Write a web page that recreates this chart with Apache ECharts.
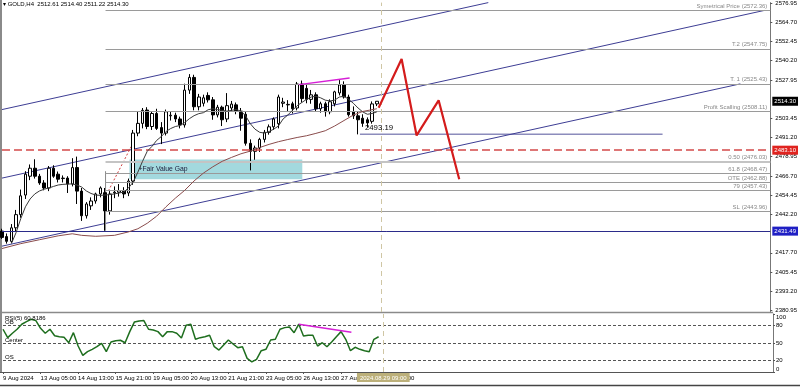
<!DOCTYPE html>
<html><head><meta charset="utf-8">
<script src="https://cdn.jsdelivr.net/npm/echarts@6/dist/echarts.min.js"></script>
<style>html,body{margin:0;padding:0;background:#fff}#c{width:800px;height:387px}</style>
</head><body><div id="c"></div>
<script>
const FONT = "'Liberation Sans','DejaVu Sans',sans-serif";
const symbolName = 'GOLD,H4';

// OHLC, H4 bars (bar 0 = 9 Aug 21:00 ... bar 80 = 29 Aug 05:00)
const openV = [
2431.5,2428.0,2425.0,2433.6,2442.0,2454.5,2466.5,2471.6,2466.5,2462.2,
2459.0,2471.6,2467.8,2465.0,2465.3,2461.5,2472.0,2457.0,2441.3,2447.6,
2450.7,2455.2,2456.0,2444.4,2455.8,2456.3,2457.3,2455.8,2463.4,2494.0,
2500.2,2508.7,2498.2,2506.5,2497.5,2494.0,2505.0,2505.4,2503.0,2499.2,
2521.4,2529.5,2510.8,2513.0,2518.0,2515.2,2505.6,2510.5,2503.0,2510.0,
2512.0,2508.0,2506.0,2487.5,2482.4,2484.5,2490.0,2494.5,2498.0,2500.0,
2513.0,2512.0,2512.7,2510.0,2525.3,2522.5,2515.5,2518.4,2509.5,2512.7,
2507.6,2512.7,2519.6,2524.7,2517.0,2507.5,2505.0,2503.5,2502.5,2501.5,
2512.61];
const highV = [
2433.0,2430.0,2436.0,2445.0,2458.0,2469.7,2474.0,2477.3,2468.0,2464.0,
2473.0,2473.5,2469.5,2467.0,2466.5,2478.0,2479.0,2459.0,2450.0,2453.0,
2456.0,2460.0,2459.0,2457.0,2460.0,2461.5,2459.5,2465.0,2496.0,2507.6,
2510.0,2510.5,2508.0,2509.5,2501.0,2509.0,2508.0,2507.0,2504.5,2525.5,
2531.6,2531.2,2519.0,2518.5,2520.0,2517.0,2512.0,2511.5,2519.5,2514.5,
2513.5,2510.0,2508.0,2490.0,2486.0,2491.0,2496.0,2499.5,2504.0,2518.5,
2516.5,2515.0,2514.0,2526.6,2527.5,2525.0,2521.5,2520.0,2514.0,2514.0,
2515.5,2521.0,2527.8,2527.0,2518.5,2511.0,2508.0,2506.0,2504.0,2514.2,
2514.40];
const lowV = [
2426.5,2423.5,2424.0,2431.0,2440.0,2452.0,2464.0,2465.0,2461.0,2457.5,
2457.0,2465.5,2462.5,2462.5,2455.8,2460.0,2448.8,2438.0,2439.5,2445.0,
2449.0,2453.0,2431.7,2442.0,2452.5,2453.5,2452.5,2453.8,2461.0,2492.0,
2497.0,2496.5,2496.0,2496.0,2487.0,2492.5,2502.0,2501.0,2497.0,2497.5,
2519.0,2508.5,2508.5,2511.0,2513.5,2502.5,2504.0,2498.5,2501.0,2508.0,
2506.0,2495.5,2486.0,2470.2,2477.0,2482.0,2488.0,2493.0,2496.0,2497.0,
2510.5,2508.0,2506.5,2508.5,2513.5,2513.0,2512.7,2507.6,2507.0,2504.5,
2506.0,2511.0,2518.0,2516.0,2504.5,2503.0,2493.19,2498.0,2497.5,2500.0,
2511.22];
const closeV = [
2427.5,2425.0,2433.6,2442.0,2454.0,2467.8,2471.6,2466.5,2462.2,2459.0,
2471.6,2466.5,2464.6,2465.3,2461.5,2472.0,2457.0,2441.3,2448.8,2450.7,
2455.2,2459.0,2444.4,2455.2,2456.3,2457.3,2455.2,2463.4,2494.0,2500.2,
2508.5,2498.2,2506.5,2497.0,2494.0,2507.6,2505.4,2503.0,2499.2,2521.4,
2529.5,2510.8,2517.0,2516.5,2515.2,2505.6,2510.5,2502.5,2511.5,2512.5,
2508.0,2503.5,2487.5,2482.4,2484.5,2490.0,2494.5,2498.0,2503.0,2517.0,
2513.8,2512.3,2509.5,2525.3,2516.0,2515.5,2518.4,2509.5,2512.7,2507.6,
2514.0,2520.3,2524.7,2517.0,2505.7,2505.0,2502.5,2500.2,2500.5,2512.6,
2514.30];

// fast moving average (bars 2..80)
const maFastStart = 2;
const maFast = [
2423.5,2430.5,2439.4,2447.0,2452.0,2455.2,2457.1,2458.2,
2459.0,2460.0,2460.9,2461.3,2461.5,2461.6,2460.9,2459.6,2457.1,2455.5,
2454.5,2454.3,2454.5,2454.8,2455.2,2455.8,2456.4,2459.0,2462.8,2469.1,
2476.0,2482.4,2485.5,2489.3,2491.8,2495.0,2496.9,2498.2,2498.8,2500.7,
2503.2,2505.1,2506.4,2507.0,2508.9,2509.5,2509.0,2508.5,2508.0,2508.5,
2509.0,2508.0,2505.0,2500.0,2496.5,2494.5,2494.0,2495.0,2496.5,2498.5,
2503.0,2505.5,2508.5,2511.5,2513.5,2515.5,2517.0,2517.5,2516.5,2515.0,
2514.5,2515.0,2517.0,2517.5,2515.5,2513.0,2510.0,2507.5,2506.0,2506.5,
2507.5];
// slow moving average (read at sample bars)
const maSlowBars = [0,4,8,12,15,17,20,24,27,29,31,33,35,37,39,41,43,45,47,49,51,53,55,57,59,61,63,65,67,69,71,73,75,77,80];
const maSlowVals = [2420.4,2423.5,2426.0,2428.5,2429.8,2428.8,2428.2,2428.8,2431.0,2433.0,2436.5,2441.0,2447.0,2452.5,2457.5,2463.5,2468.5,2472.5,2476.0,2478.5,2480.8,2482.5,2484.8,2486.8,2488.5,2489.9,2491.2,2492.3,2493.8,2495.5,2498.5,2502.0,2505.5,2507.8,2509.5];

// RSI(5)
const rsiVals = [
73.7,59.2,66.8,73.7,82.3,86.9,91.0,88.6,75.4,66.8,
73.7,62.5,60.9,59.8,50.5,67.8,44.8,28.7,35.0,39.1,
43.6,49.5,35.0,51.7,54.0,54.7,50.5,69.6,86.3,88.1,
88.6,73.7,72.5,69.6,60.9,69.6,69.6,66.8,58.7,80.6,
82.3,56.4,59.2,60.9,63.3,43.6,37.9,46.5,55.2,48.3,
41.9,43.6,23.5,17.6,21.8,36.7,39.1,55.2,56.4,73.7,
76.5,77.7,67.8,82.4,62.1,63.3,63.3,44.8,50.5,43.6,
51.7,60.9,69.6,56.4,36.7,42.6,39.1,36.7,35.0,56.4,
60.8186];
const rsiLevels = [80, 50, 20];
const rsiLevelNames = ['OB', 'Center', 'OS'];
const rsiTicks = [0, 20, 50, 80, 100];

// time axis
const tickBars = [0,8,16,24,32,40,48,56,64,72,80];
const tickLabels = ['9 Aug 2024','13 Aug 05:00','14 Aug 13:00','15 Aug 21:00','19 Aug 05:00','20 Aug 13:00','21 Aug 21:00','23 Aug 05:00','26 Aug 13:00','27 Aug 21:00','29 Aug 05:00'];
const cursorBar = 81;
const cursorLabel = '2024.08.29 09:00';
const xMax = 164;

// price axis
const priceMin = 2379.92, priceMax = 2577.2;
const priceTicks = [2380.95,2393.20,2405.45,2417.70,2442.20,2454.45,2466.70,2478.95,2491.20,2503.45,2527.95,2540.20,2552.45,2564.70,2576.95];

// drawn levels
const levelNames = ['Symetrical Price','T.2','T. 1','Profit Scalling','0.50','61.8','OTE','79','SL'];
const levelVals = [2572.36,2547.75,2525.43,2508.11,2476.03,2468.47,2462.88,2457.43,2443.96];
const levelStartBar = 22.1;
const redLevel = 2483.10;
const blueLevel = 2431.49;
const lowMark = 2493.19;
const lowMarkBars = [76.4, 141];

// channel lines [bar, price]
const channelUpper = [[0, 2509.0], [103.8, 2577.2]];
const channelMid = [[0, 2465.3], [162.7, 2572.2]];
const channelLow = [[0, 2421.9], [157.6, 2525.4]];

// fair value gap
const fvgBars = [27.2, 64.1];
const fvgPrices = [2477.1, 2464.5];

// projected path
const forecastBars = [80.4, 85.3, 88.5, 93.2, 97.6];
const forecastVals = [2510.2, 2541.2, 2492.5, 2514.9, 2464.6];

// divergence lines
const divPriceBars = [63.4, 74.2], divPriceVals = [2524.9, 2529.1];
const divRsiBars = [63.0, 74.2], divRsiVals = [82.4, 68.5];

// fib helpers
const fibDiagBars = [22.7, 27.6], fibDiagVals = [2457.1, 2485.5];
const fibVertVals = [2469.7, 2431.7];

const candles = openV.map((o, i) => [i, o, closeV[i], lowV[i], highV[i]]);
const fastData = maFast.map((v, i) => [i + maFastStart, v]);
const slowData = maSlowBars.map((b, i) => [b, maSlowVals[i]]);
const rsiData = rsiVals.map((v, i) => [i, v]);
const last = openV.length - 1;

const chart = echarts.init(document.getElementById('c'), null, {renderer: 'canvas'});

const lineS = (name, data, color, width, extra) => Object.assign({
  name, type: 'line', data, showSymbol: false, symbol: 'none', silent: true,
  lineStyle: {color, width}, z: 5, animation: false
}, extra || {});

const levelLines = levelNames.map((n, k) => [
  {coord: [levelStartBar, levelVals[k]],
   lineStyle: {color: k === 4 ? '#c4c4c4' : '#9a9a9a', width: k === 4 ? 2 : 1, type: 'solid'},
   label: {show: true, position: 'insideEndTop', distance: [3, 1],
     formatter: n + ' (' + levelVals[k].toFixed(2) + ')', color: '#888', fontSize: 6, fontFamily: FONT}},
  {coord: [xMax, levelVals[k]]}
]);

const tag = (v, bg, lineStyle) => ({
  yAxis: v, lineStyle,
  label: {show: true, position: 'end', distance: 2, formatter: v.toFixed(2),
    backgroundColor: bg, color: '#fff', padding: [2, 2, 1, 2], fontSize: 6, fontFamily: FONT}
});

const option = {
  animation: false,
  backgroundColor: '#fff',
  textStyle: {fontFamily: FONT},
  title: [
    {text: '\u25BE ' + symbolName + '  ' + openV[last].toFixed(2) + ' ' + highV[last].toFixed(2) + ' ' + lowV[last].toFixed(2) + ' ' + closeV[last].toFixed(2),
     left: 3, top: 1, padding: 0, textStyle: {fontSize: 6, fontWeight: 'normal', color: '#000', fontFamily: FONT}},
    {text: 'RSI(5) ' + rsiVals[last].toFixed(4), left: 5, top: 315, padding: 0,
     textStyle: {fontSize: 6, fontWeight: 'normal', color: '#000', fontFamily: FONT}}
  ],
  grid: [
    {left: 2, right: 27, top: 0, height: 312},
    {left: 2, right: 27, top: 314, height: 58}
  ],
  xAxis: [
    {type: 'value', gridIndex: 0, min: 0, max: xMax, show: false, splitLine: {show: false}},
    {type: 'value', gridIndex: 1, min: 0, max: xMax,
     axisLine: {show: true, onZero: false, lineStyle: {color: '#555'}},
     axisTick: {show: true, customValues: tickBars, length: 2, lineStyle: {color: '#555'}},
     axisLabel: {customValues: tickBars, formatter: v => tickLabels[tickBars.indexOf(v)],
       align: 'left', fontSize: 6, margin: 3, color: '#000', fontFamily: FONT},
     splitLine: {show: false}}
  ],
  yAxis: [
    {type: 'value', gridIndex: 0, position: 'right', min: priceMin, max: priceMax,
     axisLine: {show: true, onZero: false, lineStyle: {color: '#777'}},
     axisTick: {show: true, customValues: priceTicks, length: 2, lineStyle: {color: '#555'}},
     axisLabel: {customValues: priceTicks, formatter: v => v.toFixed(2), fontSize: 6, color: '#000', margin: 5, fontFamily: FONT},
     splitLine: {show: false}},
    {type: 'value', gridIndex: 1, position: 'right', min: 0, max: 100,
     axisLine: {show: true, onZero: false, lineStyle: {color: '#777'}},
     axisTick: {show: true, customValues: rsiTicks, length: 2, lineStyle: {color: '#555'}},
     axisLabel: {customValues: rsiTicks, fontSize: 6, color: '#000', margin: 3, fontFamily: FONT,
       verticalAlignMinLabel: 'bottom', verticalAlignMaxLabel: 'top'},
     splitLine: {show: false}}
  ],
  series: [
    // fair value gap
    lineS('fvg', [[fvgBars[0], fvgPrices[0]], [fvgBars[1], fvgPrices[1]]], 'rgba(0,0,0,0)', 0, {
      z: 1,
      markArea: {silent: true, itemStyle: {color: '#a3d9de'},
        label: {show: true, position: 'insideLeft', distance: 9, formatter: '+Fair Value Gap',
          color: '#1b1b3a', fontSize: 6.8, fontFamily: FONT},
        data: [[{coord: [fvgBars[0], fvgPrices[0]]}, {coord: [fvgBars[1], fvgPrices[1]]}]]}
    }),
    // levels and tags
    lineS('levels', [[levelStartBar, levelVals[0]]], 'rgba(0,0,0,0)', 0, {
      z: 2,
      markLine: {silent: true, symbol: ['none', 'none'], animation: false, data: levelLines.concat([
        tag(redLevel, '#e0231f', {color: '#d44a4a', type: [8, 4], width: 1.5}),
        tag(blueLevel, '#1f1fc4', {color: '#2b2b8a', type: 'solid', width: 1}),
        tag(closeV[last], '#000', {color: 'rgba(0,0,0,0)', width: 0}),
        {xAxis: cursorBar, lineStyle: {color: '#cfc6a4', type: [5, 4], width: 1}, label: {show: false}}
      ])}
    }),
    lineS('lowMark', lowMarkBars.map(b => [b, lowMark]), '#8c8cbc', 1.5, {
      z: 3,
      markPoint: {symbol: 'circle', symbolSize: 0, silent: true,
        data: [{coord: [lowMarkBars[0], lowMark],
          label: {show: true, position: 'right', distance: 5, offset: [0, -7], formatter: lowMark.toFixed(2),
            color: '#000', fontSize: 7.8, fontFamily: FONT}}]}
    }),
    lineS('chanUpper', channelUpper, '#3d3d94', 1, {z: 3}),
    lineS('chanMid', channelMid, '#3d3d94', 1, {z: 3}),
    lineS('chanLow', channelLow, '#3d3d94', 1, {z: 3}),
    lineS('fibDiag', fibDiagBars.map((b, i) => [b, fibDiagVals[i]]), '#d04040', 1, {z: 3, lineStyle: {color: '#d04040', width: 1, type: [2, 2]}}),
    lineS('fibVert', fibVertVals.map(v => [levelStartBar, v]), '#8a8a8a', 1, {z: 3}),
    {
      name: 'GOLD', type: 'candlestick', xAxisIndex: 0, yAxisIndex: 0, z: 4,
      dimensions: ['x', 'open', 'close', 'lowest', 'highest'],
      encode: {x: 'x', y: ['open', 'close', 'lowest', 'highest']},
      data: candles, barWidth: 3, silent: true, animation: false,
      itemStyle: {color: '#ffffff', color0: '#000000', borderColor: '#000000', borderColor0: '#000000', borderWidth: 1}
    },
    lineS('maFast', fastData, '#3a3a3a', 1, {z: 5}),
    lineS('maSlow', slowData, '#8a4c4c', 1, {z: 5}),
    lineS('divPrice', divPriceBars.map((b, i) => [b, divPriceVals[i]]), '#d61fd6', 1.5, {z: 6}),
    lineS('forecast', forecastBars.map((b, i) => [b, forecastVals[i]]), '#d41c1c', 2.2, {z: 7}),
    // RSI panel
    lineS('rsi', rsiData, '#1e6e1e', 1.5, {
      xAxisIndex: 1, yAxisIndex: 1, z: 5,
      markLine: {silent: true, symbol: ['none', 'none'], animation: false, data:
        rsiLevels.map((v, k) => ({yAxis: v, lineStyle: {color: '#555', type: [3, 2], width: 1},
          label: {show: true, position: 'insideStartTop', distance: [2, 0], formatter: rsiLevelNames[k],
            color: '#000', fontSize: 6, fontFamily: FONT}})).concat([
        {xAxis: cursorBar, lineStyle: {color: '#cfc6a4', type: [5, 4], width: 1},
          label: {show: true, position: 'start', distance: 1, formatter: cursorLabel,
            backgroundColor: '#bcb07a', color: '#fff', padding: [2, 3, 1, 3], fontSize: 6, fontFamily: FONT}}
        ])}
    }),
    lineS('divRsi', divRsiBars.map((b, i) => [b, divRsiVals[i]]), '#d61fd6', 1.5, {xAxisIndex: 1, yAxisIndex: 1, z: 6})
  ],
  graphic: [
    {type: 'line', shape: {x1: 1, y1: 0, x2: 1, y2: 372}, style: {stroke: '#8a8a8a', lineWidth: 2}, silent: true},
    {type: 'line', shape: {x1: 0, y1: 312.5, x2: 773, y2: 312.5}, style: {stroke: '#8a8a8a', lineWidth: 1.5}, silent: true},
    {type: 'line', shape: {x1: 0, y1: 372.5, x2: 773, y2: 372.5}, style: {stroke: '#555', lineWidth: 1}, silent: true},
    {type: 'line', shape: {x1: 0, y1: 385.5, x2: 800, y2: 385.5}, style: {stroke: '#444', lineWidth: 1.5}, silent: true}
  ]
};
chart.setOption(option);
</script>
</body></html>
